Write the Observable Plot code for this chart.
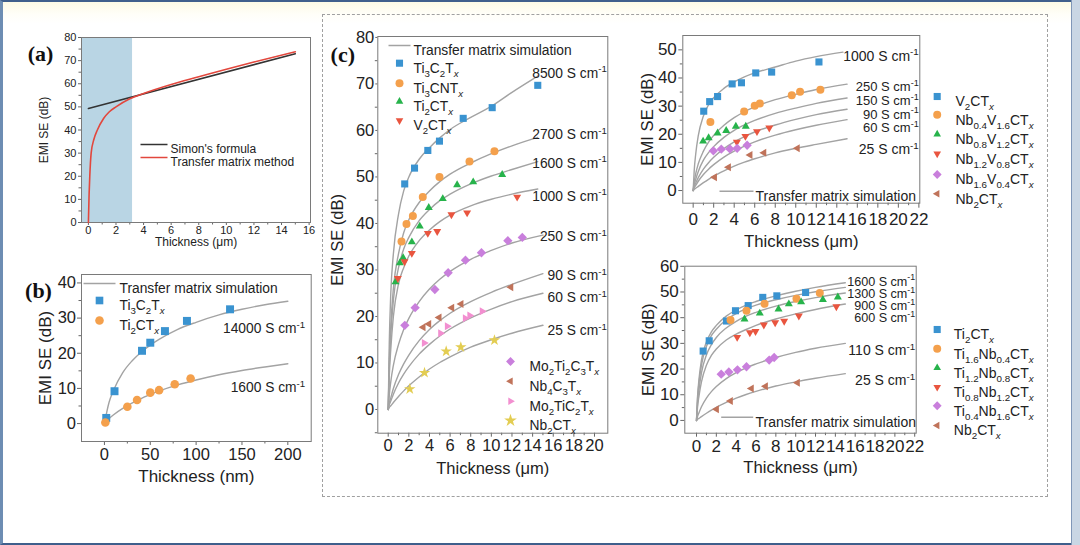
<!DOCTYPE html>
<html><head><meta charset="utf-8">
<script src="https://cdn.jsdelivr.net/npm/d3@7"></script>
<script src="https://cdn.jsdelivr.net/npm/@observablehq/plot@0.6"></script>
<style>
body{margin:0;width:1080px;height:545px;overflow:hidden;background:#fff;position:relative;font-family:"Liberation Sans",Arial,sans-serif;}
#frame{position:absolute;left:0;top:0;width:1080px;height:545px;box-sizing:border-box;border-top:2px solid #3f5f8c;border-bottom:2px solid #3f5f8c;border-left:3px solid #6d8db3;background:linear-gradient(#fcfae6 0,#fffef8 12px,#ffffff 22px);}
#rband{position:absolute;left:1071px;top:0;width:9px;height:545px;background:#c9d6e4;border-left:1px solid #8097b8;box-sizing:border-box}
#dash{position:absolute;left:322px;top:14px;width:726px;height:483px;border:1.5px dashed #a0a0a0;box-sizing:border-box}
svg{position:absolute;overflow:visible}
</style></head><body>
<div id="frame"></div><div id="rband"></div><div id="dash"></div>
<script>
// ================= DATA =================
// (a) Simon's formula vs transfer matrix method
const aSimonX = [0, 15];
const aSimonY = [49.3, 73.0];
const aTmmX = [0, 0.05, 0.1, 0.2, 0.4, 0.65, 1.1, 1.5, 2, 3, 4, 6, 8, 10, 12, 15];
const aTmmY = [0, 12, 20, 30, 36, 40, 45, 47.8, 50, 53.5, 55.8, 59.7, 63, 66.3, 69.4, 73.8];
const aShade = [-0.5, 3.2];
const aXTicks = [0, 2, 4, 6, 8, 10, 12, 14, 16];
const aYTicks = [0, 10, 20, 30, 40, 50, 60, 70, 80];
const aLegend = ["Simon's formula", "Transfer matrix method"];

// (b) nm films
const bThick = [0, 5, 10, 20, 30, 40, 50, 60, 80, 100, 125, 150, 175, 200];
const b14000 = [0, 6, 9.5, 14.5, 17.8, 20.3, 22.3, 24, 26.8, 28.8, 30.9, 32.5, 33.8, 34.8];
const b1600 = [0, 1.4, 2.5, 4.3, 5.8, 7.1, 8.3, 9.3, 11, 12.4, 13.9, 15.1, 16.1, 17];
const bTi3C2Tx = [[2, 1.6], [11, 9.2], [41, 20.7], [50, 23], [66, 26.3], [90, 29.2], [137, 32.5]];
const bTi2CTx = [[1, 0.3], [25, 4.8], [35.6, 6.7], [50, 8.8], [59.6, 9.5], [76.7, 11.2], [94, 12.8]];
const bNames = ["Ti_3C_2T_x", "Ti_2CT_x"];
const bCurveLabels = ["14000 S cm^{-1}", "1600 S cm^{-1}"];
const bXTicks = [0, 50, 100, 150, 200];
const bYTicks = [0, 10, 20, 30, 40];

// (c) micrometre films
const cGridA = [0, 0.1, 0.25, 0.5, 1, 1.5, 2, 3, 4, 5, 6, 8, 10, 12, 14.5];
const cGridB = [0, 0.1, 0.25, 0.5, 1, 1.5, 2, 3, 4, 5, 6, 8, 10, 12, 15];
const c8500 = [0, 14, 25, 33.5, 42, 47, 50, 53.8, 56.3, 58.4, 60.2, 62.8, 65.2, 68.2, 71.7];
const c2700 = [0, 10, 18, 26, 33.5, 38, 40.8, 44.5, 47, 49, 50.6, 53, 55, 56.7, 58.5];
const c1600 = [0, 9, 16, 23.5, 30.5, 34.5, 37, 40.6, 43, 44.9, 46.3, 48.5, 50.2, 51.6, 53.3];
const c1000 = [0, 7, 13, 20, 27, 30.5, 33, 36.3, 38.6, 40.4, 41.8, 43.8, 45.2, 46.3, 47.4];
const c250 = [0, 3, 6, 9.5, 14, 17.2, 19.6, 23.2, 25.9, 28, 29.7, 32.3, 34.2, 35.8, 37.5];
const c90 = [0, 1.3, 2.5, 4.5, 7.5, 9.8, 11.7, 14.8, 17.2, 19.1, 20.7, 23.2, 25.2, 26.9, 29.2];
const c60 = [0, 1, 1.8, 3.3, 5.7, 7.6, 9.2, 11.9, 14, 15.8, 17.3, 19.7, 21.6, 23.2, 25];
const c25 = [0, 0.4, 0.8, 1.5, 2.8, 4, 5.1, 7, 8.7, 10.1, 11.3, 13.4, 15, 16.4, 18.1];
const cTi3C2Tx = [[1.6, 48.5], [2.55, 51.9], [3.84, 55.7], [4.97, 57.7], [7.27, 62.6], [10.08, 64.9], [14.5, 69.7]];
const cTi3CNTx = [[1.29, 36.1], [1.77, 39.9], [2.39, 41.6], [3.35, 45.7], [4.97, 50], [7.88, 53.3], [10.3, 55.5]];
const cTi2CTx = [[0.71, 27.4], [1.13, 31.5], [1.45, 32.6], [2.29, 36], [3.06, 39.4], [3.93, 43.4], [5.29, 45.3], [6.68, 48.3], [8.24, 48.9], [11.05, 50.5]];
const cV2CTx = [[0.93, 28.2], [1.58, 31.8], [2.29, 33.6], [3.84, 37.9], [4.75, 38.3], [6.13, 41.9], [7.65, 42.3], [12.5, 45.7]];
const cMo2Ti2C3Tx = [[1.61, 18.1], [2.61, 21.9], [4.52, 25.8], [5.81, 29.4], [7.49, 32.1], [9.04, 33.7], [11.6, 36.3], [13.0, 37]];
const cNb4C3Tx = [[3.39, 17.7], [3.94, 18.4], [4.94, 19.8], [6.17, 21.9], [7.07, 22.7], [11.9, 26.3]];
const cMo2TiC2Tx = [[3.49, 14.3], [5.07, 16.4], [5.72, 17.9], [7.46, 19.6], [7.9, 20.2], [9.1, 21.1]];
const cNb2CTx = [[2.09, 4.4], [3.52, 7.9], [5.62, 12.5], [7.04, 13.4], [10.3, 14.9]];
const cNamesTop = ["Ti_3C_2T_x", "Ti_3CNT_x", "Ti_2CT_x", "V_2CT_x"];
const cNamesBottom = ["Mo_2Ti_2C_3T_x", "Nb_4C_3T_x", "Mo_2TiC_2T_x", "Nb_2CT_x"];
const cCurveLabels = ["8500 S cm^{-1}", "2700 S cm^{-1}", "1600 S cm^{-1}", "1000 S cm^{-1}", "250 S cm^{-1}", "90 S cm^{-1}", "60 S cm^{-1}", "25 S cm^{-1}"];
const cXTicks = [0, 2, 4, 6, 8, 10, 12, 14, 16, 18, 20];
const cYTicks = [0, 10, 20, 30, 40, 50, 60, 70, 80];

// (d) Nb/V solid solutions
const dGridA = [0, 0.1, 0.25, 0.5, 1, 1.5, 2, 3, 4, 5, 6, 8, 10, 12, 14.6];
const d1000 = [0, 7, 13, 19.5, 26.5, 30.5, 33, 36.3, 38.6, 40.4, 41.8, 43.9, 46, 47.6, 49.2];
const d250 = [0, 3, 6, 9.5, 14, 17.2, 19.6, 23.2, 25.9, 28, 29.7, 32.3, 34.2, 35.9, 37.8];
const d150 = [0, 2, 4, 6.8, 10.8, 13.5, 15.6, 18.9, 21.4, 23.3, 24.9, 27.4, 29.3, 31, 32.9];
const d90 = [0, 1.4, 2.6, 4.6, 7.6, 9.9, 11.8, 14.9, 17.3, 19.2, 20.8, 23.3, 25.3, 27, 28.9];
const d60 = [0, 1, 1.8, 3.3, 5.7, 7.6, 9.2, 11.9, 14, 15.8, 17.3, 19.7, 21.6, 23.2, 25.2];
const d25 = [0, 0.4, 0.8, 1.5, 2.8, 4, 5.1, 7, 8.7, 10.1, 11.3, 13.4, 15, 16.4, 18.4];
const dV2CTx = [[1.03, 28.2], [1.61, 31.6], [2.38, 33.4], [3.8, 37.9], [4.71, 38.3], [6.1, 41.8], [7.65, 42.1], [12.26, 45.7]];
const dNb04V16 = [[1.68, 24.4], [4.97, 28.1], [6.0, 30.1], [6.5, 30.9], [9.61, 33.9], [10.42, 35.1], [12.4, 35.8]];
const dNb08V12 = [[0.97, 17.5], [1.51, 18.7], [2.38, 20.4], [3.22, 21.3], [4.16, 22.8], [5.13, 22.8]];
const dNb12V08 = [[4.26, 17.2], [5.09, 19.3], [6.22, 21], [7.42, 22.3]];
const dNb16V04 = [[1.97, 14.1], [2.74, 14.7], [3.58, 14.8], [4.29, 15.0], [5.26, 16.1]];
const dNb2CTx = [[2.09, 4.7], [3.45, 8.3], [5.55, 12.6], [6.9, 13.4], [10.16, 15.0]];
const dNames = ["V_2CT_x", "Nb_{0.4}V_{1.6}CT_x", "Nb_{0.8}V_{1.2}CT_x", "Nb_{1.2}V_{0.8}CT_x", "Nb_{1.6}V_{0.4}CT_x", "Nb_2CT_x"];
const dCurveLabels = ["1000 S cm^{-1}", "250 S cm^{-1}", "150 S cm^{-1}", "90 S cm^{-1}", "60 S cm^{-1}", "25 S cm^{-1}"];
const dXTicks = [0, 2, 4, 6, 8, 10, 12, 14, 16, 18, 20, 22];
const dYTicks = [0, 10, 20, 30, 40, 50];

// (e) Ti/Nb solid solutions
const e1600 = [0, 9, 16, 23.5, 30.5, 34.5, 37, 40.6, 43, 44.9, 46.3, 48.5, 50.3, 51.8, 53.6];
const e1300 = [0, 8, 14.5, 21.5, 28.8, 33, 35.5, 39.2, 41.6, 43.4, 44.9, 47, 48.7, 50.1, 51.8];
const e900 = [0, 6.5, 12, 18.5, 25.5, 29.5, 32.3, 36, 38.6, 40.6, 42.1, 44.5, 46.3, 47.8, 49.6];
const e600 = [0, 5, 9.5, 15, 21.5, 25.3, 27.8, 31.3, 33.6, 35.4, 37, 39.5, 41.5, 43.2, 45.3];
const e110 = [0, 1.5, 3, 5.3, 8.7, 11.2, 13.2, 16.3, 18.6, 20.5, 22, 24.5, 26.5, 28.1, 30];
const e25 = [0, 0.4, 0.8, 1.5, 2.8, 4, 5.1, 7, 8.7, 10.1, 11.3, 13.4, 15, 16.4, 18.2];
const eTi2CTx = [[0.67, 27.0], [1.28, 31.0], [3.02, 38.7], [3.93, 42.7], [5.21, 44.7], [6.68, 47.9], [8.1, 48.5], [11.0, 49.8]];
const eTi16Nb04 = [[3.43, 39.1], [5.04, 42.7], [6.86, 45.4], [10.08, 47.4], [12.43, 49.6]];
const eTi12Nb08 = [[4.84, 39.4], [6.38, 41.7], [8.27, 43.3], [9.31, 45.3], [10.55, 46.1], [12.74, 47], [14.25, 48.0]];
const eTi08Nb12 = [[4.1, 32.4], [5.38, 34.2], [5.95, 34.7], [6.79, 37.2], [7.93, 38.1], [8.84, 38.7], [10.32, 40.7], [14.1, 44.3]];
const eTi04Nb16 = [[2.49, 18.0], [3.26, 18.9], [4.13, 19.7], [5.04, 20.9], [7.33, 23.5], [7.83, 24.5]];
const eNb2CTx = [[2.02, 4.4], [3.43, 7.6], [5.54, 12.4], [6.96, 13.3], [10.18, 14.7]];
const eNames = ["Ti_2CT_x", "Ti_{1.6}Nb_{0.4}CT_x", "Ti_{1.2}Nb_{0.8}CT_x", "Ti_{0.8}Nb_{1.2}CT_x", "Ti_{0.4}Nb_{1.6}CT_x", "Nb_2CT_x"];
const eCurveLabels = ["1600 S cm^{-1}", "1300 S cm^{-1}", "900 S cm^{-1}", "600 S cm^{-1}", "110 S cm^{-1}", "25 S cm^{-1}"];
const eYTicks = [0, 10, 20, 30, 40, 50, 60];
const simLabel = "Transfer matrix simulation";

// ================= STYLE =================
const FONT = "'Liberation Sans', Arial, Helvetica, sans-serif";
const SERIF = "'Liberation Serif', 'Times New Roman', serif";
const CURVE = "#a3a3a3";
const BLUE = "#3a93d0", ORANGE = "#f4a04c", GREEN = "#27b34b", RED = "#e9553f",
      VIOLET = "#c97fdc", BROWN = "#c0735a", PINK = "#f28fd0", YELLOW = "#e3cd52";

const tri = (pts) => ({draw(c, s) { const r = Math.sqrt(s) * 0.62; pts.forEach(([a, b], i) => i ? c.lineTo(a * r, b * r) : c.moveTo(a * r, b * r)); c.closePath(); }});
const UP = tri([[0, -1], [0.866, 0.5], [-0.866, 0.5]]);
const DOWN = tri([[0, 1], [-0.866, -0.5], [0.866, -0.5]]);
const LEFT = tri([[-1, 0], [0.5, -0.866], [0.5, 0.866]]);
const RIGHT = tri([[1, 0], [-0.5, -0.866], [-0.5, 0.866]]);
const hline = (len) => ({draw(c) { c.moveTo(-len / 2, 0); c.lineTo(len / 2, 0); }});

const pairs = (xs, ys) => xs.map((x, i) => [x, ys[i]]);
const T = (s, o) => Plot.text([s], {text: d => d, fill: "#222", textAnchor: "middle", ...o});
const curve = (xs, ys, o = {}) => Plot.line(pairs(xs, ys), {x: d => d[0], y: d => d[1], stroke: CURVE, strokeWidth: 1.4, curve: "monotone-x", ...o});
const dots = (p, sym, color, r) => Plot.dot(p, {x: d => d[0], y: d => d[1], symbol: sym, fill: color, stroke: "none", r});

function axes(xt, yt, {fs, tsx = 4, tpx = 2, tsy = 3, tpy = 2, xminor = [], yminor = []}) {
  const common = {stroke: "#666", fill: "#222", label: null, fontSize: fs};
  return [
    Plot.axisX(xt, {anchor: "bottom", tickSize: tsx, tickPadding: tpx, ...common}),
    Plot.axisX(xminor, {anchor: "bottom", tickSize: 2.5, tickFormat: () => "", stroke: "#666", label: null}),
    Plot.axisY(yt, {anchor: "left", tickSize: tsy, tickPadding: tpy, ...common}),
    Plot.axisY(yminor, {anchor: "left", tickSize: 2.5, tickFormat: () => "", stroke: "#666", label: null}),
    Plot.frame({stroke: "#7a7a7a", strokeWidth: 1})
  ];
}
function legend(items, o) {
  const m = [];
  items.forEach((it, i) => {
    if (it.line) m.push(Plot.dot([0], {frameAnchor: o.anchor, dx: o.mx, dy: o.ys[i], symbol: hline(it.line), fill: "none", stroke: it.color, strokeWidth: 1.5}));
    else m.push(Plot.dot([0], {frameAnchor: o.anchor, dx: o.mx, dy: o.ys[i], symbol: it.sym, fill: it.color, stroke: "none", r: o.r}));
    m.push(T(it.name, {frameAnchor: o.anchor, dx: o.tx, dy: o.ys[i], textAnchor: "start", fontSize: o.fs}));
  });
  return m;
}
function curveLabels(labels, dys, fs, dx = -1) {
  return labels.map((l, i) => T(l, {frameAnchor: "top-right", dx, dy: dys[i], textAnchor: "end", fontSize: Array.isArray(fs) ? fs[i] : fs}));
}
function place(svg, left, top) { svg.style.left = left + "px"; svg.style.top = top + "px"; document.body.appendChild(svg); }
const odd = (a, b, s) => d3.range(a, b, s);

// ================= (a) =================
place(Plot.plot({
  width: 320, height: 240, marginLeft: 81, marginRight: 10, marginTop: 17, marginBottom: 38,
  x: {domain: [-0.5, 16.1]}, y: {domain: [0, 80]},
  style: {fontFamily: FONT, fontSize: "11px", background: "transparent", color: "#222"},
  marks: [
    Plot.rect([aShade], {x1: d => d[0], x2: d => d[1], fill: "#b9d5e4"}),
    ...axes(aXTicks, aYTicks, {fs: 11, tsx: 3, tpx: 1, tsy: 3, tpy: 2, xminor: odd(1, 16, 2), yminor: odd(5, 80, 10)}),
    Plot.line(pairs(aSimonX, aSimonY), {x: d => d[0], y: d => d[1], stroke: "#333", strokeWidth: 1.5}),
    curve(aTmmX, aTmmY, {stroke: "#e2473d", strokeWidth: 1.6}),
    ...legend([{name: aLegend[0], line: 27, color: "#333"}, {name: aLegend[1], line: 27, color: "#e2473d"}],
      {anchor: "top-left", mx: 72.5, tx: 89, ys: [107, 120], fs: 12}),
    T("EMI SE (dB)", {frameAnchor: "left", dx: -37, rotate: -90, fontSize: 12}),
    T("Thickness (μm)", {frameAnchor: "bottom", dy: 23, fontSize: 12}),
    T("(a)", {frameAnchor: "top-left", dx: -41, dy: 8, fontSize: 22, fontWeight: "bold", fontFamily: SERIF, fill: "#111"})
  ]
}), 0, 20);

// ================= (b) =================
place(Plot.plot({
  width: 320, height: 232, marginLeft: 81, marginRight: 9.3, marginTop: 12, marginBottom: 53,
  x: {domain: [-25, 225.5]}, y: {domain: [-5.1, 42.4]},
  style: {fontFamily: FONT, fontSize: "16px", background: "transparent", color: "#222"},
  marks: [
    ...axes(bXTicks, bYTicks, {fs: 16.5, tsx: 4, tpx: 3, tsy: 4, tpy: 1.5, xminor: [25, 75, 125, 175], yminor: [5, 15, 25, 35]}),
    curve(bThick, b14000), curve(bThick, b1600),
    dots(bTi3C2Tx, "square", BLUE, 4.5), dots(bTi2CTx, "circle", ORANGE, 4.3),
    ...legend([{name: simLabel, line: 32, color: CURVE}, {name: bNames[0], sym: "square", color: BLUE}, {name: bNames[1], sym: "circle", color: ORANGE}],
      {anchor: "top-left", mx: 18, tx: 38, ys: [9, 26, 46], fs: 13.8, r: 4.3}),
    ...curveLabels(bCurveLabels, [49, 108], 13.8, -6),
    T("EMI SE (dB)", {frameAnchor: "left", dx: -36, rotate: -90, fontSize: 17}),
    T("Thickness (nm)", {frameAnchor: "bottom", dy: 40, fontSize: 17}),
    T("(b)", {frameAnchor: "top-left", dx: -43, dy: 8, fontSize: 22, fontWeight: "bold", fontFamily: SERIF, fill: "#111"})
  ]
}), 0, 262);

// ================= (c) =================
place(Plot.plot({
  width: 292, height: 470, marginLeft: 55.3, marginRight: 6.7, marginTop: 16, marginBottom: 57.3,
  x: {domain: [-1.01, 21.29]}, y: {domain: [-5.1, 80.2]},
  style: {fontFamily: FONT, fontSize: "16.5px", background: "transparent", color: "#222"},
  marks: [
    ...axes(cXTicks, cYTicks, {fs: 16.5, tsx: 4, tpx: 2, tsy: 2, tpy: 1.5, xminor: odd(1, 21, 2), yminor: odd(-5, 80, 10)}),
    curve(cGridA, c8500), curve(cGridA, c2700), curve(cGridA, c1600), curve(cGridA, c1000),
    curve(cGridB, c250), curve(cGridB, c90), curve(cGridB, c60), curve(cGridB, c25),
    dots(cTi3C2Tx, "square", BLUE, 4), dots(cTi3CNTx, "circle", ORANGE, 4), dots(cTi2CTx, UP, GREEN, 4.2), dots(cV2CTx, DOWN, RED, 4.2),
    dots(cMo2Ti2C3Tx, "diamond2", VIOLET, 4.2), dots(cNb4C3Tx, LEFT, BROWN, 4.2), dots(cMo2TiC2Tx, RIGHT, PINK, 4.2), dots(cNb2CTx, "star", YELLOW, 3.6),
    ...legend([{name: simLabel, line: 22, color: CURVE},
      {name: cNamesTop[0], sym: "square", color: BLUE}, {name: cNamesTop[1], sym: "circle", color: ORANGE},
      {name: cNamesTop[2], sym: UP, color: GREEN}, {name: cNamesTop[3], sym: DOWN, color: RED}],
      {anchor: "top-left", mx: 21.7, tx: 35.7, ys: [9, 26.7, 46.7, 65, 84], fs: 13.8, r: 4}),
    ...legend([{name: cNamesBottom[0], sym: "diamond2", color: VIOLET}, {name: cNamesBottom[1], sym: LEFT, color: BROWN},
      {name: cNamesBottom[2], sym: RIGHT, color: PINK}, {name: cNamesBottom[3], sym: "star", color: YELLOW}],
      {anchor: "top-left", mx: 132.7, tx: 151.7, ys: [325, 344.7, 364.7, 384], fs: 13.8, r: 4}),
    ...curveLabels(cCurveLabels, [31.3, 93, 121.3, 154.7, 195, 234, 256, 289], 13.8),
    T("EMI SE (dB)", {frameAnchor: "left", dx: -40, dy: 5, rotate: -90, fontSize: 16.5}),
    T("Thickness (μm)", {frameAnchor: "bottom", dy: 40.6, fontSize: 16.5}),
    T("(c)", {frameAnchor: "top-left", dx: -35, dy: 10, fontSize: 22, fontWeight: "bold", fontFamily: SERIF, fill: "#111"})
  ]
}), 322, 20);

// ================= (d) =================
place(Plot.plot({
  width: 420, height: 235, marginLeft: 57.3, marginRight: 125.7, marginTop: 10, marginBottom: 57.3,
  x: {domain: [-1.01, 22.09]}, y: {domain: [-4.5, 55.1]},
  style: {fontFamily: FONT, fontSize: "17px", background: "transparent", color: "#222"},
  marks: [
    ...axes(dXTicks, dYTicks, {fs: 17, tsx: 5, tpx: 5, tsy: 4, tpy: 2, xminor: odd(1, 22, 2), yminor: odd(5, 55, 10)}),
    curve(dGridA, d1000), curve(cGridB, d250), curve(cGridB, d150), curve(cGridB, d90), curve(cGridB, d60), curve(cGridB, d25),
    dots(dV2CTx, "square", BLUE, 4), dots(dNb04V16, "circle", ORANGE, 4), dots(dNb08V12, UP, GREEN, 4.2),
    dots(dNb12V08, DOWN, RED, 4.2), dots(dNb16V04, "diamond2", VIOLET, 4.2), dots(dNb2CTx, LEFT, BROWN, 4.2),
    ...legend([{name: simLabel, line: 34, color: CURVE}], {anchor: "top-left", mx: 53.7, tx: 72.7, ys: [155.7], fs: 14}),
    ...legend(dNames.map((n, i) => ({name: n, sym: ["square", "circle", UP, DOWN, "diamond2", LEFT][i], color: [BLUE, ORANGE, GREEN, RED, VIOLET, BROWN][i]})),
      {anchor: "top-right", mx: 17.4, tx: 35.7, ys: [61, 79.3, 98.7, 118.3, 139, 158.3], fs: 14, r: 4}),
    ...curveLabels(dCurveLabels, [15.7, 46.7, 60.3, 73.8, 87.3, 109], [14, 13, 13, 13, 13, 14]),
    T("EMI SE (dB)", {frameAnchor: "left", dx: -35.6, rotate: -90, fontSize: 16.7}),
    T("Thickness (μm)", {frameAnchor: "bottom", dy: 44, fontSize: 16.7})
  ]
}), 625, 25);

// ================= (e) =================
place(Plot.plot({
  width: 420, height: 232, marginLeft: 59.3, marginRight: 129.3, marginTop: 7.7, marginBottom: 57.3,
  x: {domain: [-1.18, 22.15]}, y: {domain: [-4.97, 60.04]},
  style: {fontFamily: FONT, fontSize: "17px", background: "transparent", color: "#222"},
  marks: [
    ...axes(dXTicks, eYTicks, {fs: 17, tsx: 4, tpx: 3, tsy: 4, tpy: 2, xminor: odd(1, 22, 2), yminor: odd(5, 60, 10)}),
    curve(cGridB, e1600), curve(cGridB, e1300), curve(cGridB, e900), curve(cGridB, e600), curve(cGridB, e110), curve(cGridB, e25),
    dots(eTi2CTx, "square", BLUE, 4), dots(eTi16Nb04, "circle", ORANGE, 4), dots(eTi12Nb08, UP, GREEN, 4.2),
    dots(eTi08Nb12, DOWN, RED, 4.2), dots(eTi04Nb16, "diamond2", VIOLET, 4.2), dots(eNb2CTx, LEFT, BROWN, 4.2),
    ...legend([{name: simLabel, line: 32, color: CURVE}], {anchor: "top-left", mx: 52.4, tx: 70.7, ys: [151], fs: 14}),
    ...legend(eNames.map((n, i) => ({name: n, sym: ["square", "circle", UP, DOWN, "diamond2", LEFT][i], color: [BLUE, ORANGE, GREEN, RED, VIOLET, BROWN][i]})),
      {anchor: "top-right", mx: 21, tx: 37.6, ys: [63.3, 82.6, 101.6, 121, 139.6, 159.3], fs: 14, r: 4}),
    ...curveLabels(eCurveLabels, [10.5, 22.8, 35, 47.2, 79.3, 109.3], [12.6, 12.6, 12.6, 12.6, 14, 14]),
    T("EMI SE (dB)", {frameAnchor: "left", dx: -36, rotate: -90, fontSize: 16.7}),
    T("Thickness (μm)", {frameAnchor: "bottom", dy: 40, fontSize: 16.7})
  ]
}), 625, 258);

// ============ rich text: sub/superscripts ============
document.querySelectorAll("svg text").forEach(t => {
  const s = t.textContent;
  if (!/[_^]/.test(s) || t.children.length) return;
  const fs = parseFloat(getComputedStyle(t).fontSize) || 14;
  while (t.firstChild) t.removeChild(t.firstChild);
  const re = /([_^])(\{[^}]*\}|.)|([^_^]+)/g;
  let m, off = 0;
  while ((m = re.exec(s))) {
    const ts = document.createElementNS("http://www.w3.org/2000/svg", "tspan");
    let content, target = 0;
    if (m[3] !== undefined) content = m[3];
    else {
      content = m[2].startsWith("{") ? m[2].slice(1, -1) : m[2];
      target = m[1] === "_" ? 0.28 * fs : -0.42 * fs;
      ts.setAttribute("font-size", (0.7 * fs) + "px");
      if (content === "x") ts.setAttribute("font-style", "italic");
    }
    ts.setAttribute("dy", (target - off).toFixed(2));
    off = target;
    ts.textContent = content;
    t.appendChild(ts);
  }
});
</script>
</body></html>
